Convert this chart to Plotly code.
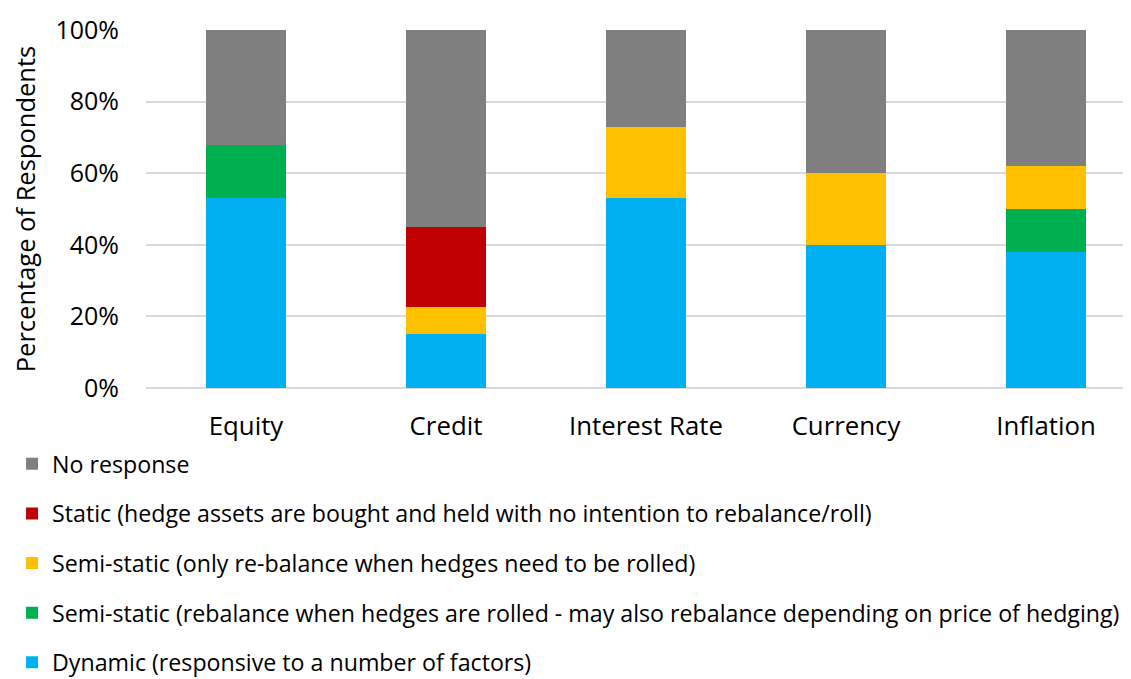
import plotly.graph_objects as go

# data (percent of respondents)
categories = ["Equity", "Credit", "Interest Rate", "Currency", "Inflation"]

dynamic = [53, 15, 53, 40, 38]
semi_static_rebal = [15, 0, 0, 0, 12]
semi_static_only = [0, 7.5, 20, 20, 12]
static = [0, 22.5, 0, 0, 0]
no_response = [32, 55, 27, 40, 38]

series = [
    ("Dynamic (responsive to a number of factors)", dynamic, "#00b0f0"),
    ("Semi-static (rebalance when hedges are rolled - may also rebalance depending on price of hedging)",
     semi_static_rebal, "#00b050"),
    ("Semi-static (only re-balance when hedges need to be rolled)", semi_static_only, "#ffc000"),
    ("Static (hedge assets are bought and held with no intention to rebalance/roll)", static, "#c00000"),
    ("No response", no_response, "#7f7f7f"),
]

fig = go.Figure()
for i, (name, vals, col) in enumerate(series):
    fig.add_trace(go.Bar(x=categories, y=[v / 100 for v in vals], name=name,
                         marker_color=col, marker_line_width=0, width=0.4,
                         legendgroup=name, legendrank=10 - i))

fnt = "Open Sans"
fig.update_layout(
    barmode="stack",
    width=1123, height=671,
    margin=dict(l=138, r=0, t=22, b=291),
    plot_bgcolor="white", paper_bgcolor="white",
    font=dict(family=fnt, size=24, color="#000000"),
    legend=dict(orientation="v", traceorder="grouped",
                x=-0.136, xanchor="left", y=0.353, yanchor="top", yref="container",
                tracegroupgap=16.5, font=dict(size=23.2), itemclick=False),
    xaxis=dict(range=[-0.5, 4.425], showgrid=False, showline=False, ticks="",
               tickfont=dict(size=25.8), ticklabelstandoff=20),
    yaxis=dict(range=[0, 1], tickformat=".0%", dtick=0.2, showgrid=True,
               gridcolor="#d9d9d9", gridwidth=1.5, zeroline=True,
               zerolinecolor="#d9d9d9", zerolinewidth=1.5,
               tickfont=dict(size=25), ticks="", ticklabelstandoff=26,
               title=dict(text="Percentage of Respondents", font=dict(size=25.5), standoff=12)),
)

fig.write_html("out.html")
